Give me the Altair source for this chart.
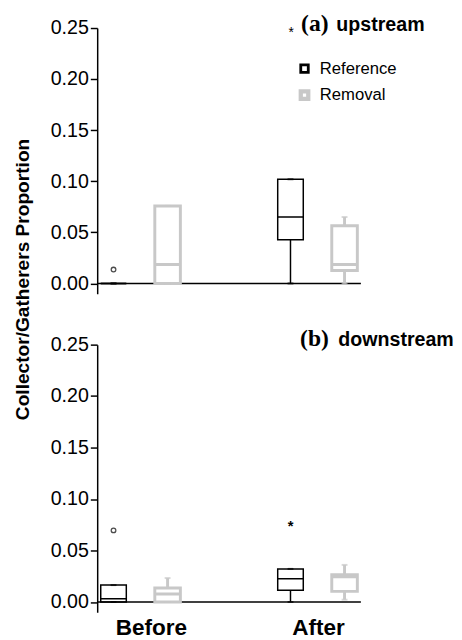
import altair as alt
import pandas as pd

PERIODS = ["Before", "After"]
GROUPS = ["Reference", "Removal"]

box_period = ["Before", "Before", "After", "After"]
box_group = ["Reference", "Removal", "Reference", "Removal"]

# (a) upstream: whisker low, Q1, median, Q3, whisker high
up_lo = [0.0, 0.0, 0.0, 0.0]
up_q1 = [0.0, 0.0, 0.0428, 0.0126]
up_med = [0.0, 0.0185, 0.065, 0.0185]
up_q3 = [0.0, 0.0759, 0.102, 0.0564]
up_hi = [0.0, 0.0759, 0.102, 0.065]

# (b) downstream
dn_lo = [0.0, 0.0, 0.0, 0.0022]
dn_q1 = [0.0, 0.0, 0.0113, 0.0103]
dn_med = [0.0032, 0.0077, 0.0225, 0.0245]
dn_q3 = [0.0164, 0.0135, 0.0321, 0.0264]
dn_hi = [0.0164, 0.0232, 0.0321, 0.036]

# outliers
up_out_period = ["Before"]
up_out_group = ["Reference"]
up_out_value = [0.0136]
up_out_kind = ["circle"]

dn_out_period = ["Before", "After"]
dn_out_group = ["Reference", "Reference"]
dn_out_value = [0.0695, 0.0779]
dn_out_kind = ["circle", "star"]

y_ticks = [0.0, 0.05, 0.10, 0.15, 0.20, 0.25]

GREY = "#c8c8c8"
FONT = "Liberation Sans"
SERIF = "Liberation Serif"
W = 269
HOLLOW_SQUARE = "M-1,-1H1V1H-1Z M-0.7,-0.7V0.7H0.7V-0.7Z"


def panel(lo, q1, med, q3, hi, op, og, ov, ok, letter, name, star, bottom, top, height):
    stats = pd.DataFrame(dict(period=box_period, group=box_group, lo=lo, q1=q1,
                              med=med, q3=q3, hi=hi))
    outs = pd.DataFrame(dict(period=op, group=og, value=ov, kind=ok))

    xaxis = alt.Axis(labelFont=FONT, labelFontSize=23, labelFontWeight="bold",
                     labelColor="black", labelAngle=0, domain=False, ticks=False,
                     labelPadding=5, title=None,
                     labelOffset={"condition": {"test": "datum.value === 'Before'", "value": 11},
                                  "value": 1}) if bottom else None
    xenc = alt.X("period:N", sort=PERIODS,
                 scale=alt.Scale(type="band", domain=PERIODS, paddingInner=0.55,
                                 paddingOuter=0.02),
                 axis=xaxis, title=None)
    xoff = alt.XOffset("group:N", sort=GROUPS,
                       scale=alt.Scale(domain=GROUPS, paddingInner=0.527, paddingOuter=0))
    yscale = alt.Scale(domain=[-0.01, 0.25], nice=False, zero=False)
    if top:
        yaxis = alt.Axis(values=y_ticks, format=".2f", title="Collector/Gatherers Proportion",
                         titleX=-66, titleY=256, titleFont=FONT, titleFontSize=19.5,
                         titleFontWeight="bold", titleColor="black")
    else:
        yaxis = alt.Axis(values=y_ticks, format=".2f", title=None)
    legend = alt.Legend(title=None, orient="none", legendX=203, legendY=33,
                        symbolType=HOLLOW_SQUARE, symbolSize=81, symbolStrokeWidth=0,
                        labelFont=FONT, labelFontSize=17,
                        labelColor="black", labelOffset=7, rowPadding=8, padding=0)
    color = alt.Color("group:N", scale=alt.Scale(domain=GROUPS, range=["black", GREY]),
                      legend=legend)
    sw = alt.StrokeWidth("group:N", scale=alt.Scale(domain=GROUPS, range=[1.5, 3.0]),
                         legend=None)

    def Y(field):
        return alt.Y(field, type="quantitative", scale=yscale, axis=yaxis)

    base = alt.Chart(stats)
    zero = alt.Chart(alt.Data(values=[{}])).mark_rule(color="black", strokeWidth=1.5).encode(
        y=alt.YDatum(0, scale=yscale, axis=yaxis))
    box = base.mark_bar(filled=False).encode(x=xenc, xOffset=xoff, y=Y("q1"), y2="q3",
                                            color=color, strokeWidth=sw)
    wl = base.mark_rule().encode(x=xenc, xOffset=xoff, y=Y("lo"), y2="q1", color=color, strokeWidth=sw)
    wh = base.mark_rule().encode(x=xenc, xOffset=xoff, y=Y("q3"), y2="hi", color=color, strokeWidth=sw)
    mid = base.mark_bar(filled=False).encode(x=xenc, xOffset=xoff, y=Y("med"), y2="med",
                                            color=color, strokeWidth=sw)
    caplo = base.mark_tick(size=6, thickness=2).encode(x=xenc, xOffset=xoff, y=Y("lo"), color=color)
    caphi = base.mark_tick(size=6, thickness=2).encode(x=xenc, xOffset=xoff, y=Y("hi"), color=color)
    circ = alt.Chart(outs).transform_filter("datum.kind == 'circle'").mark_point(
        shape="circle", filled=False, size=22, strokeWidth=1.3).encode(
        x=xenc, xOffset=xoff, y=Y("value"), color=color)
    st = alt.Chart(outs).transform_filter("datum.kind == 'star'").mark_text(
        text="*", font=FONT, fontSize=15, fontWeight="bold", baseline="middle", dy=4).encode(
        x=xenc, xOffset=xoff, y=Y("value"), color=color)

    one = alt.Data(values=[{}])
    layers = [zero, box, wl, wh, mid, caplo, caphi, circ, st]
    ybase = 3 if top else 1.5
    xl = 208 if top else 207
    xn = 244 if top else 246
    layers.append(alt.Chart(one).mark_text(text=letter, font=SERIF, fontSize=24, fontWeight="bold",
                                          align="left", baseline="alphabetic", color="black")
                  .encode(x=alt.value(xl), y=alt.value(ybase)))
    layers.append(alt.Chart(one).mark_text(text=name, font=FONT, fontSize=20, fontWeight="bold",
                                          align="left", baseline="alphabetic", color="black")
                  .encode(x=alt.value(xn), y=alt.value(ybase)))
    if star:
        layers.append(alt.Chart(one).mark_text(text="*", font=FONT, fontSize=14, align="center",
                                              baseline="alphabetic", color="black")
                      .encode(x=alt.value(198), y=alt.value(9)))
    return alt.layer(*layers).properties(width=W, height=height)


top = panel(up_lo, up_q1, up_med, up_q3, up_hi, up_out_period, up_out_group, up_out_value,
            up_out_kind, "(a)", "upstream", True, False, True, 271)
bot = panel(dn_lo, dn_q1, dn_med, dn_q3, dn_hi, dn_out_period, dn_out_group, dn_out_value,
            dn_out_kind, "(b)", "downstream", False, True, False, 273)

chart = alt.vconcat(top, bot, spacing=52, bounds="flush").properties(
    padding={"left": 5, "top": -2, "right": 0, "bottom": 0}
).configure_view(stroke=None).configure_axisY(
    labelFont=FONT, labelFontSize=20, labelColor="black", labelPadding=2,
    tickSize=7, tickColor="black", tickWidth=1.5, domainColor="black", domainWidth=1.5,
    grid=False
).configure_axisX(grid=False)

chart.save("out.html", embed_options={"renderer": "svg", "actions": False})
